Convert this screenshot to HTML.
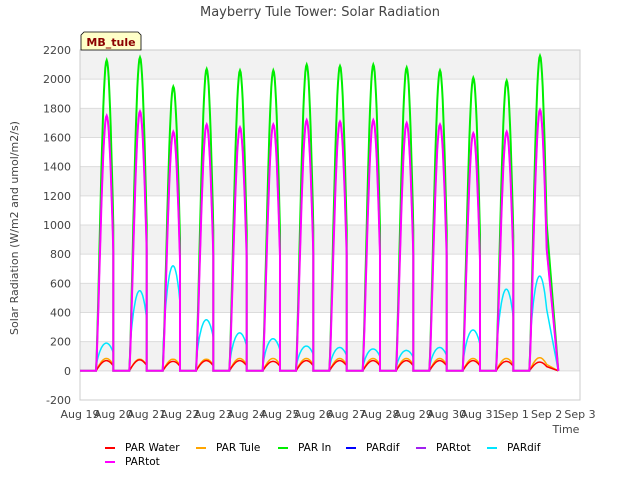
<!DOCTYPE html>
<html><head><meta charset="utf-8"><style>
body{margin:0;background:#fff;font-family:"Liberation Sans","DejaVu Sans",sans-serif;}
text{font-family:"DejaVu Sans","Liberation Sans",sans-serif;}
</style></head><body>
<svg id="chart" width="640" height="480" xmlns="http://www.w3.org/2000/svg">
<rect width="640" height="480" fill="#fff"/>
<g id="bands"></g><g id="grid"></g>
<rect x="80" y="50" width="500" height="350" fill="none" stroke="#ccc"/>
<g id="series" clip-path="url(#clip)"></g>
<clipPath id="clip"><rect x="80" y="50" width="500" height="350"/></clipPath>
<g id="yticks" font-size="11" fill="#444" text-anchor="end"></g>
<g id="xticks" font-size="11" fill="#444" text-anchor="middle"></g>
<text x="320" y="16" text-anchor="middle" font-size="13" fill="#444">Mayberry Tule Tower: Solar Radiation</text>
<text x="18" y="228" transform="rotate(-90 18 228)" text-anchor="middle" font-size="11" fill="#444">Solar Radiation (W/m2 and umol/m2/s)</text>
<text x="566" y="433" text-anchor="middle" font-size="11" fill="#444">Time</text>
<g>
<path d="M81,50 L81,35 L84,32 L138,32 L141,35 L141,50 Z" fill="#ffffc8" stroke="#000" stroke-width="0.8"/>
<text x="111" y="46" text-anchor="middle" font-size="11" font-weight="bold" fill="#8b0000">MB_tule</text></g>
<g id="legend" font-size="10.5" fill="#000"></g>
</svg>
<script>
const yTicks=[-200,0,200,400,600,800,1000,1200,1400,1600,1800,2000,2200];
const xTickLabels=["Aug 19","Aug 20","Aug 21","Aug 22","Aug 23","Aug 24","Aug 25","Aug 26","Aug 27","Aug 28","Aug 29","Aug 30","Aug 31","Sep 1","Sep 2","Sep 3"];
const parInPeaks=[2130,2150,1950,2070,2060,2060,2100,2090,2100,2080,2060,2010,1990,2160];
const parTotPeaks=[1750,1780,1640,1690,1670,1690,1720,1710,1720,1700,1690,1630,1640,1790];
const parDifPeaks=[190,550,720,350,260,220,170,160,150,140,160,280,560,650];
const parWaterPeaks=[70,75,65,70,70,65,70,70,70,70,70,70,65,60];
const parTulePeaks=[85,80,80,80,85,85,85,85,85,85,85,85,85,90];
const NS="http://www.w3.org/2000/svg";
const X0=80,X1=580,Y0=400,Y1=50,ymin=-200,ymax=2200;
const xs=d=>X0+(X1-X0)*d/15;
const ys=v=>Y0-(Y0-Y1)*(v-ymin)/(ymax-ymin);
function mk(t,a,p){const e=document.createElementNS(NS,t);for(const k in a)e.setAttribute(k,a[k]);(p||document.getElementById('chart')).appendChild(e);return e;}
const bands=document.getElementById('bands'),grid=document.getElementById('grid');
for(let i=1;i<yTicks.length-1;i+=2){const b=mk('rect',{x:X0,y:ys(yTicks[i+1]),width:X1-X0,height:ys(yTicks[i])-ys(yTicks[i+1]),fill:'#f2f2f2'},bands);

}
yTicks.forEach(v=>{const l=mk('line',{x1:X0,x2:X1,y1:ys(v),y2:ys(v),stroke:'#dcdcdc'},grid);


const t=mk('text',{x:X0-9,y:ys(v)+4},document.getElementById('yticks'));t.textContent=v;

});
xTickLabels.forEach((s,i)=>{const t=mk('text',{x:xs(i),y:Y0+18},document.getElementById('xticks'));t.textContent=s;

});
function series(peaks,color,w,name,start,len,pw){
 let pts=[];pts.push([0.35,0]);
 for(let d=0;d<peaks.length;d++){
  for(let f=0;f<=1.0001;f+=0.02){const t=d+f;const u=(f-start)/len;
   const v=(u>0&&u<1)?peaks[d]*Math.pow(Math.sin(Math.PI*u),pw):0;pts.push([t,v]);}
 }
 pts.push([14.35,0]);
 const p=mk('polyline',{points:pts.map(q=>xs(q[0]).toFixed(1)+','+ys(q[1]).toFixed(1)).join(' '),fill:'none',stroke:color,'stroke-width':w},document.getElementById('series'));
 
 
}
series(parTulePeaks,'orange',1.5,'par-tule-line',0.48,0.62,1.0);
series(parWaterPeaks,'red',1.5,'par-water-line',0.48,0.62,1.0);
series(parDifPeaks,'#00e5ff',1.5,'pardif-cyan-line',0.48,0.62,0.6);
series(parInPeaks,'#00ee00',2,'par-in-line',0.48,0.64,1.3);
series(parTotPeaks,'#a020f0',1.5,'partot-purple-line',0.48,0.64,1.3);
series(parTotPeaks,'#ff00ff',2,'partot-magenta-line',0.48,0.64,1.3);
const legNames=["PAR Water","PAR Tule","PAR In","PARdif","PARtot","PARdif","PARtot"];
const legColors=["red","orange","#00ee00","blue","#a020f0","#00e5ff","#ff00ff"];
const legX=[105,196,278,346,416,487,105];
const legY=[447,447,447,447,447,447,461];
const lg=document.getElementById('legend');
legNames.forEach((n,i)=>{const g=mk('g',{},lg);


mk('line',{x1:legX[i],x2:legX[i]+10,y1:legY[i]+1,y2:legY[i]+1,stroke:legColors[i],'stroke-width':2},g);
const t=mk('text',{x:legX[i]+20,y:legY[i]+4},g);t.textContent=n;});
</script>
</body></html>
